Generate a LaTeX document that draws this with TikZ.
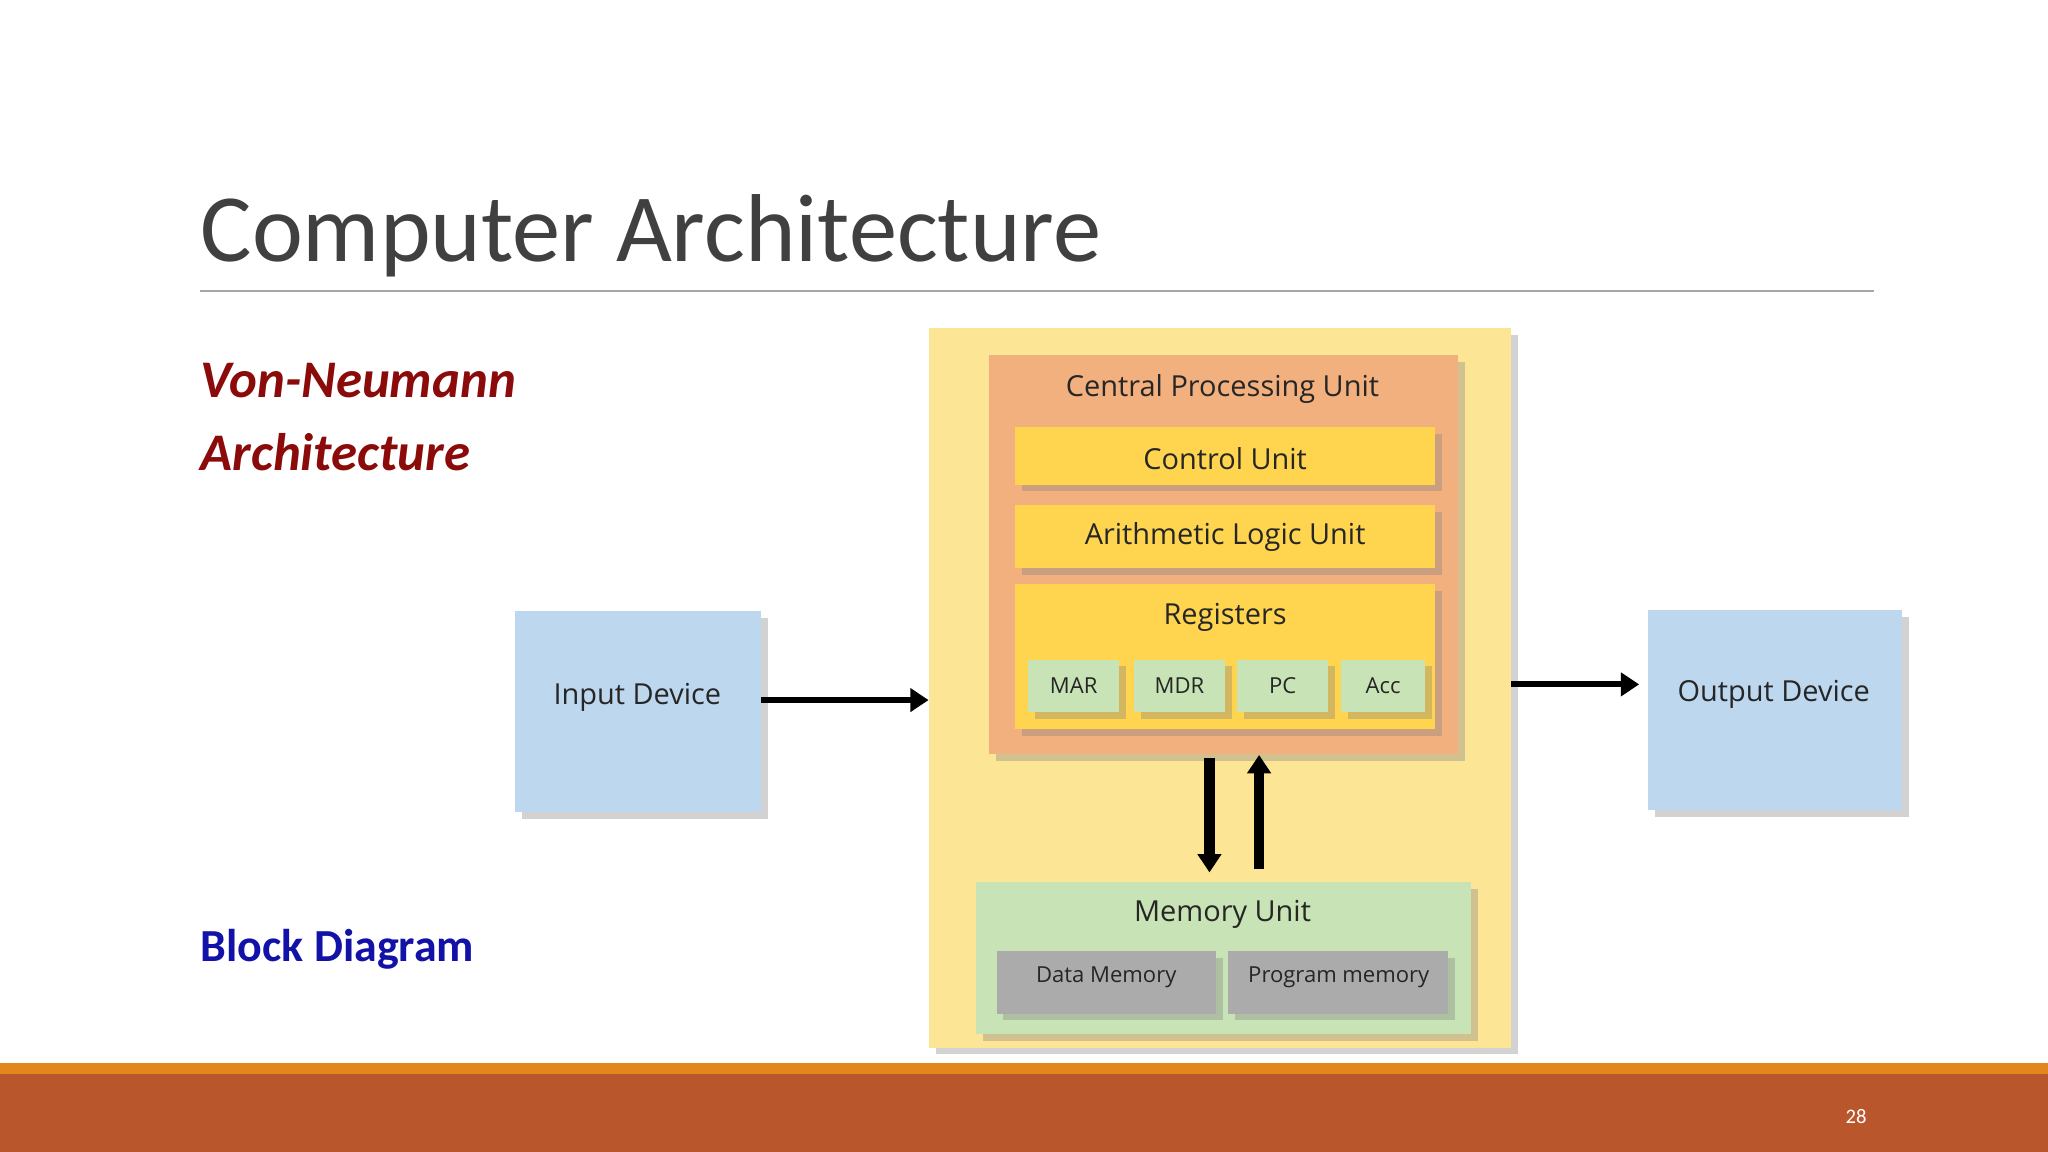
\documentclass[tikz,border=0pt]{standalone}
\usepackage{fontspec}
\setmainfont{Carlito}
\newfontfamily\dia{Open Sans}
\usetikzlibrary{shadows,arrows.meta}
\definecolor{ttl}{HTML}{404040}
\definecolor{vn}{HTML}{8B0A0A}
\definecolor{bd}{HTML}{1212A8}
\definecolor{barA}{HTML}{E3861E}
\definecolor{barB}{HTML}{B9562B}
\definecolor{ybg}{HTML}{FDE596}
\definecolor{cpu}{HTML}{F2B07F}
\definecolor{cu}{HTML}{FFD54F}
\definecolor{grn}{HTML}{C8E3B5}
\definecolor{gry}{HTML}{ABABAB}
\definecolor{blu}{HTML}{BDD7EE}
\tikzset{
 box/.style={draw=none,drop shadow={shadow xshift=1.5pt,shadow yshift=-1.5pt,opacity=0.35}},
 lbl/.style={font=\dia\fontsize{6.3}{7}\selectfont,text=black!85},
 small/.style={font=\dia\fontsize{4.8}{6}\selectfont,text=black!85},
 arr/.style={line width=1.3pt,-{Triangle[length=4pt,width=5pt]}},
}
\begin{document}
\begin{tikzpicture}[x=0.01cm,y=-0.01cm]
\useasboundingbox (0,0) rectangle (1568,882);
\fill[white] (0,0) rectangle (1568,882);
\node[anchor=base west,inner sep=0,text=ttl,font=\fontsize{21}{24}\selectfont\addfontfeature{}] (title) at (153,200) {Computer Architecture};
\draw[gray!70,line width=0.5pt] (153,223) -- (1435,223);
\node[anchor=west,inner sep=0,text=vn,font=\bfseries\itshape\fontsize{11.5}{13}\selectfont] (vn1) at (153,291) {Von-Neumann};
\node[anchor=west,inner sep=0,text=vn,font=\bfseries\itshape\fontsize{11.5}{13}\selectfont] (vn2) at (153,346) {Architecture};
\node[anchor=west,inner sep=0,text=bd,font=\bfseries\fontsize{10}{12}\selectfont] (blk) at (153,727) {Block Diagram};
\fill[barA] (0,814) rectangle (1568,822);
\fill[barB] (0,822) rectangle (1568,882);
\node[text=white,font=\fontsize{4.5}{5}\selectfont] (pg) at (1421,855) {28};
% diagram
\path[box,fill=ybg] (711,251) rectangle (1157,802);
\path[box,fill=cpu] (757,272) rectangle (1116,577);
\node[lbl] (cput) at (936,298) {Central Processing Unit};
\path[box,fill=cu] (777,327) rectangle (1099,371);
\node[lbl] (cu) at (938,351) {Control Unit};
\path[box,fill=cu] (777,387) rectangle (1099,435);
\node[lbl] (alu) at (938,411) {Arithmetic Logic Unit};
\path[box,fill=cu] (777,447) rectangle (1099,558);
\node[lbl] (reg) at (938,473) {Registers};
\foreach \a/\b/\t in {787/857/MAR,868/938/MDR,947/1017/PC,1027/1091/Acc}{
 \path[box,fill=grn] (\a,505) rectangle (\b,545);
 \node[small] (r\t) at ({(\a+\b)/2},525) {\t};
}
\path[box,fill=grn] (747,675) rectangle (1126,792);
\node[lbl] (mem) at (936,700) {Memory Unit};
\path[box,fill=gry] (763,728) rectangle (931,776);
\node[small] (dm) at (847,748) {Data Memory};
\path[box,fill=gry] (940,728) rectangle (1109,776);
\node[small] (pm) at (1025,748) {Program memory};
\path[box,fill=blu] (394,468) rectangle (583,622);
\node[lbl] (in) at (488,534) {Input Device};
\path[box,fill=blu] (1262,467) rectangle (1456,620);
\node[lbl] (out) at (1358,532) {Output Device};
\coordinate (a1) at (583,536); \coordinate (a2) at (711,536);
\coordinate (b1) at (1157,524); \coordinate (b2) at (1255,524);
\coordinate (c1) at (926,580); \coordinate (c2) at (926,668);
\coordinate (d1) at (964,665); \coordinate (d2) at (964,578);
\draw[arr] (a1) -- (a2);
\draw[arr] (b1) -- (b2);
\draw[arr,line width=2.2pt] (c1) -- (c2);
\draw[arr,line width=2.2pt] (d1) -- (d2);
\end{tikzpicture}
\end{document}
